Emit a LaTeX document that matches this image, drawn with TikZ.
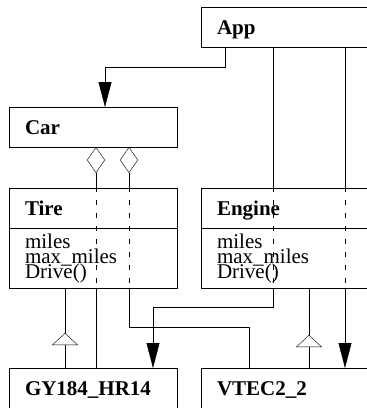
\documentclass[tikz,border=0pt]{standalone}
\usepackage{fontspec}
\setmainfont{Liberation Serif}
\usepackage{tikz}
\usetikzlibrary{arrows.meta, decorations.markings}
\pgfdeclarelayer{back}
\pgfsetlayers{back,main}

\begin{document}
\begin{tikzpicture}[x=1pt, y=-1pt, line width=1pt,
  cls/.style={draw, fill=white, anchor=north west, outer sep=0pt, inner xsep=16pt, inner ysep=0pt,
    text width=136pt, minimum height=40pt, text height=14pt, text depth=0pt, align=left,
    font={\fontsize{21}{25}\selectfont\bfseries}},
  attr/.style={draw, fill=white, anchor=north west, outer sep=0pt, inner xsep=16pt, inner ysep=0pt,
    text width=136pt, minimum height=60pt, align=left,
    font={\fontsize{21}{15}\selectfont\lineskiplimit=-50pt}},
  wide/.style={text width=168pt},
  nav/.style={-{Triangle[length=25pt, width=13pt]}},
  aggr/.style={{Diamond[open, length=26pt, width=18pt]}-},
  gen/.style={postaction={decorate, decoration={markings,
    mark=at position #1 with {\arrow{Triangle[fill=white, length=12pt, width=26pt]}}}}},
  hidden/.style={dash pattern=on 5pt off 8pt, dash phase=1pt}]
  \clip (0,0) rectangle (367,408);
  \node[cls, wide] (app) at (201,7) {App};
  \node[cls] (car) at (9,107) {Car};
  \node[cls] (tire) at (9,188) {Tire};
  \node[attr] (tireattr) at (tire.south west) {miles\\max\_miles\\Drive()};
  \node[cls, wide] (engine) at (201,188) {Engine};
  \node[attr, wide] (engineattr) at (engine.south west) {miles\\max\_miles\\Drive()};
  \node[cls] (gy) at (9,368) {GY184\_HR14};
  \node[cls, wide] (vtec) at (201,368) {VTEC2\_2};
  \coordinate (k1) at (225,67);
  \coordinate (k2) at (105,67);
  \coordinate (a1) at (96,0);
  \coordinate (a2) at (129,327);
  \coordinate (a3) at (249,327);
  \coordinate (d1) at (273,307);
  \coordinate (d2) at (153,307);
  \coordinate (e1) at (345,0);
  \coordinate (g1) at (65,0);
  \coordinate (g2) at (309,0);
  \begin{pgfonlayer}{back}
    \draw[nav] (app.south -| k1) -- (k1) -- (k2) -- (car.north -| k2);
    \draw[aggr] (car.south -| a1) -- (gy.north -| a1);
    \draw[aggr] (car.south -| a2) -- (a2) -- (a3) -- (vtec.north -| a3);
    \draw[nav] (app.south -| d1) -- (d1) -- (d2) -- (gy.north -| d2);
    \draw[nav] (app.south -| e1) -- (vtec.north -| e1);
    \draw[gen=0.4375] (gy.north -| g1) -- (tireattr.south -| g1);
    \draw[gen=0.4125] (vtec.north -| g2) -- (engineattr.south -| g2);
  \end{pgfonlayer}
  \draw[hidden] (tire.north -| a1) -- (tireattr.south -| a1);
  \draw[hidden] (tire.north -| a2) -- (tireattr.south -| a2);
  \draw[hidden] (engine.north -| d1) -- (engineattr.south -| d1);
  \draw[hidden] (engine.north -| e1) -- (engineattr.south -| e1);
\end{tikzpicture}
\end{document}
